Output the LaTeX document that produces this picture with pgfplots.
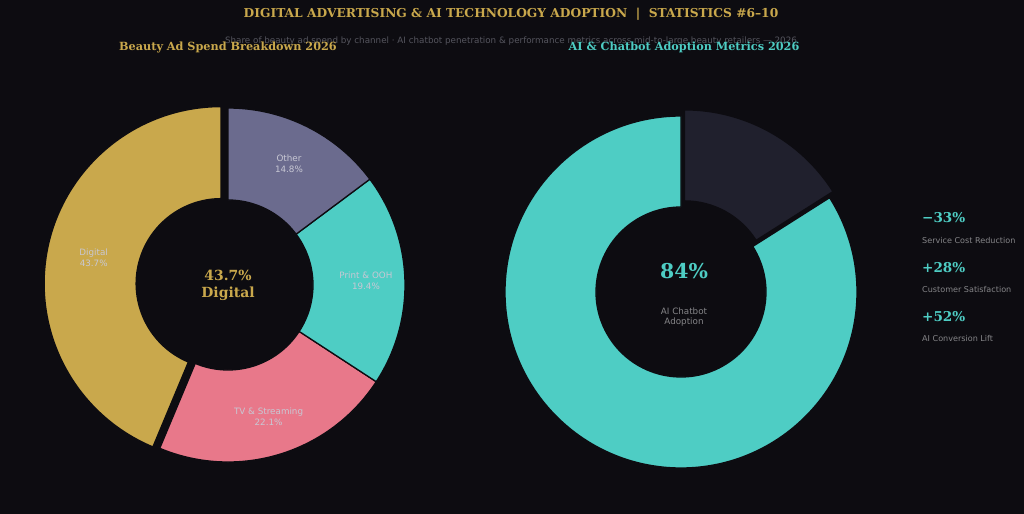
\documentclass[border=0pt]{standalone}
\usepackage{pgfplots}
\pgfplotsset{compat=1.18}
\usepackage{fontspec}
\setmainfont{DejaVu Sans}
\newfontfamily\serifbf{DejaVu Serif}
\definecolor{bgc}{HTML}{0D0C11}
\definecolor{cGold}{HTML}{C9A84C}
\definecolor{cTV}{HTML}{E8788A}
\definecolor{cTeal}{HTML}{4ECDC4}
\definecolor{cOther}{HTML}{6B6B8E}
\definecolor{cDark}{HTML}{20202D}
\definecolor{labc}{HTML}{C8C8D4}
\definecolor{subc}{HTML}{55555E}
\definecolor{metc}{HTML}{858588}
\newcommand\fs[2]{\fontsize{#1}{#2}\selectfont}
\tikzset{slbl/.style={text=labc, align=center, font=\fs{8.8}{10.8}, inner sep=0pt}}
% data (percent)
\def\vDig{43.7}\def\vTV{22.1}\def\vPrint{19.4}\def\vOther{14.8}
\def\vAI{84}\def\vNoAI{16}
% slice: #1 a1, #2 a2, #3 Rout, #4 Rin, #5 explode, #6 colour, #7 centre (x,y)
\newcommand\slice[7]{%
  \pgfmathsetmacro\sm{(#1+#2)/2}%
  \edef\tmp{\noexpand\fill[#6, draw=bgc, line width=1.3bp, shift={(axis cs:#7)}, shift={(\sm:#5bp)}]
    (#1:#3bp) arc[start angle=#1, end angle=#2, radius=#3bp] -- (#2:#4bp)
    arc[start angle=#2, end angle=#1, radius=#4bp] -- cycle;}%
  \tmp}
% label: #1 a1, #2 a2, #3 r, #4 explode, #5 cx, #6 cy, then {text};
\newcommand\slicelabel[6]{%
  \pgfmathsetmacro\lx{#5+(#3+#4)*cos((#1+#2)/2)}%
  \pgfmathsetmacro\ly{#6+(#3+#4)*sin((#1+#2)/2)}%
  \edef\tmp{\noexpand\node[slbl] at (axis cs:\lx,\ly)}%
  \tmp}
\begin{document}
\begin{tikzpicture}
\fill[bgc] (0,0) rectangle (1024bp,514bp);
\pgfmathsetmacro\aA{90+3.6*\vDig}
\pgfmathsetmacro\aB{\aA+3.6*\vTV}
\pgfmathsetmacro\aC{\aB+3.6*\vPrint}
\pgfmathsetmacro\aD{\aC+3.6*\vOther}
\pgfmathsetmacro\bA{90+3.6*\vAI}
\pgfmathsetmacro\bB{\bA+3.6*\vNoAI}
\begin{axis}[x=1bp, y=1bp, xmin=0, xmax=1024, ymin=0, ymax=514,
  at={(0,0)}, anchor=south west, hide axis, clip=false]
% left donut
\slice{90}{\aA}{177}{85}{7}{cGold}{228,229}
\slice{\aA}{\aB}{177}{85}{0}{cTV}{228,229}
\slice{\aB}{\aC}{177}{85}{0}{cTeal}{228,229}
\slice{\aC}{\aD}{177}{85}{0}{cOther}{228,229}
\slicelabel{90}{\aA}{130}{7}{228}{229}{Digital\\43.7\%};
\slicelabel{\aA}{\aB}{138}{0}{228}{229}{TV \& Streaming\\22.1\%};
\slicelabel{\aB}{\aC}{138}{0}{228}{229}{Print \& OOH\\19.4\%};
\slicelabel{\aC}{\aD}{136}{0}{228}{229}{Other\\14.8\%};
% right donut
\slice{90}{\bA}{176}{85}{0}{cTeal}{681,222}
\slice{\bA}{\bB}{176}{85}{7}{cDark}{681,222}
% centre texts
\node[text=cGold, align=center, font=\serifbf\bfseries\fs{14}{17}] at (axis cs:228,229) {43.7\%\\Digital};
\node[text=cTeal, font=\serifbf\bfseries\fs{20.5}{24}] at (axis cs:684,243) {84\%};
\node[text=metc, align=center, font=\fs{8.8}{10.8}] at (axis cs:684,197) {AI Chatbot\\Adoption};
% titles
\node[text=cGold, font=\serifbf\bfseries\fs{12.3}{14}] at (axis cs:511,500) {DIGITAL ADVERTISING \& AI TECHNOLOGY ADOPTION \ \textbar\ \ STATISTICS \#6–10};
\node[text=subc, font=\fs{8.8}{10}] at (axis cs:511,473) {Share of beauty ad spend by channel · AI chatbot penetration \& performance metrics across mid-to-large beauty retailers — 2026};
\node[text=cGold, font=\serifbf\bfseries\fs{11.3}{13}] at (axis cs:228,467) {Beauty Ad Spend Breakdown 2026};
\node[text=cTeal, font=\serifbf\bfseries\fs{11.3}{13}] at (axis cs:684,467) {AI \& Chatbot Adoption Metrics 2026};
% metrics
\node[text=cTeal, anchor=west, inner sep=0pt, font=\serifbf\bfseries\fs{13.6}{15}] at (axis cs:922,296) {−33\%};
\node[text=metc, anchor=west, inner sep=0pt, font=\fs{8.1}{9}] at (axis cs:922,274) {Service Cost Reduction};
\node[text=cTeal, anchor=west, inner sep=0pt, font=\serifbf\bfseries\fs{13.6}{15}] at (axis cs:922,246) {+28\%};
\node[text=metc, anchor=west, inner sep=0pt, font=\fs{8.1}{9}] at (axis cs:922,225) {Customer Satisfaction};
\node[text=cTeal, anchor=west, inner sep=0pt, font=\serifbf\bfseries\fs{13.6}{15}] at (axis cs:922,197) {+52\%};
\node[text=metc, anchor=west, inner sep=0pt, font=\fs{8.1}{9}] at (axis cs:922,176) {AI Conversion Lift};
\end{axis}
\pgfresetboundingbox
\path (0,0) rectangle (1024bp,514bp);
\end{tikzpicture}
\end{document}
